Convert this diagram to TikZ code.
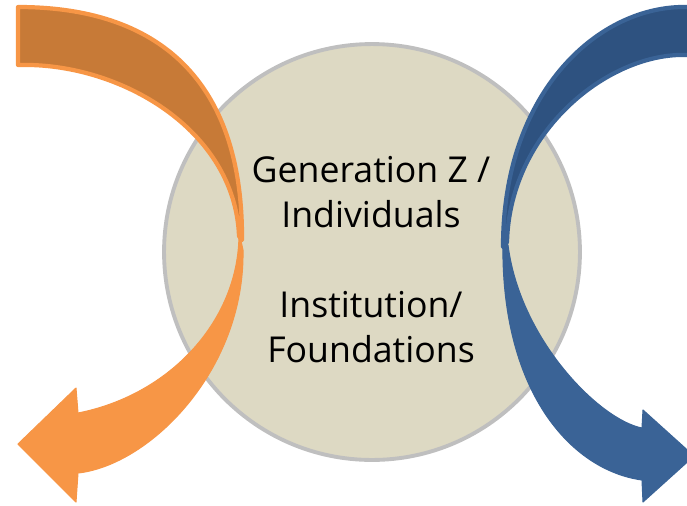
\documentclass[tikz,border=0pt]{standalone}
\usepackage{fontspec}
\setmainfont{Open Sans}
\definecolor{orng}{HTML}{F79646}
\definecolor{orngdark}{HTML}{C77A37}
\definecolor{blu}{HTML}{3A6396}
\definecolor{bludark}{HTML}{2E5280}
\definecolor{disc}{HTML}{DDD9C3}
\definecolor{discline}{HTML}{BFBFBF}
\begin{document}
\begin{tikzpicture}[x=0.02cm,y=-0.02cm,
  back/.style={line width=2.4pt,line join=round},
  front/.style={line width=0.6pt,line join=round},
  lbl/.style={anchor=base,inner sep=0pt,font=\fontsize{20.3}{25}\selectfont}]
\useasboundingbox (0,0) rectangle (687,505);
\clip (0,0) rectangle (687,505);

\node (hub) [circle,draw=discline,fill=disc,line width=2.2pt,minimum size=8.32cm] at (372,252) {};

% left arrow
\filldraw[back,fill=orngdark,draw=orng] (18,7) .. controls (168,7) and (243,90) .. (242,240)
  -- (239,236) .. controls (235,130) and (120,62) .. (18,65) -- cycle;
\filldraw[front,fill=orng,draw=orng] (239,232) .. controls (240,320) and (170,395) .. (78,413)
  -- (76,388) -- (18,444) -- (76,502) -- (78,473) .. controls (150,465) and (245,370) .. (243,250) -- cycle;

% right arrow
\filldraw[back,fill=bludark,draw=blu] (700,7) -- (687,7) .. controls (600,5) and (503,90) .. (503,247)
  -- (507,242) .. controls (510,130) and (610,52) .. (687,55) -- (700,55) -- cycle;
\filldraw[front,fill=blu,draw=blu] (503,240) .. controls (500,390) and (570,470) .. (642,480)
  -- (643,502) -- (694,456) -- (643,410) -- (642,428) .. controls (600,420) and (520,340) .. (508,245) -- cycle;

\node (gen) [lbl] at (371,182) {Generation Z /};
\node (indiv) [lbl] at (371,227) {Individuals};
\node (inst) [lbl] at (371,317) {Institution/};
\node (found) [lbl] at (371,362) {Foundations};
\end{tikzpicture}
\end{document}
